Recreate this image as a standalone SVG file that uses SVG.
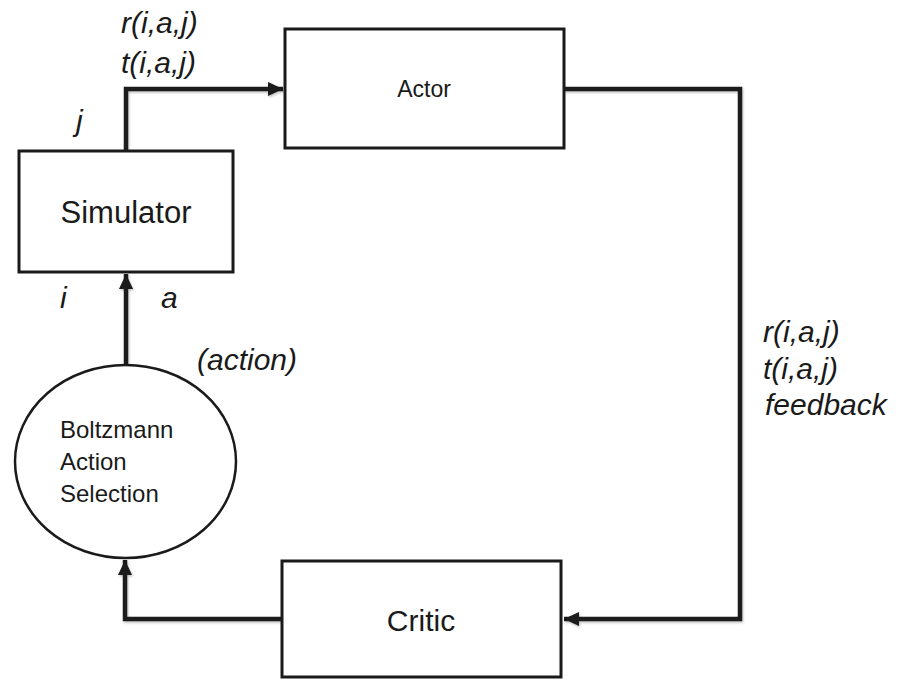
<svg xmlns="http://www.w3.org/2000/svg" width="899" height="679" viewBox="0 0 899 679">
<style>
.box{fill:#fff;stroke:#1a1a1a;stroke-width:3}
.conn{fill:none;stroke:#1a1a1a;stroke-width:4.5;stroke-linejoin:miter}
.lbl{font-family:"Liberation Sans",Arial,sans-serif;fill:#1a1a1a}
.it{font-family:"Liberation Sans",Arial,sans-serif;font-style:italic;font-size:30px;fill:#1a1a1a}
</style>
<defs>
<marker id="arr" markerUnits="userSpaceOnUse" markerWidth="16" markerHeight="14" refX="15" refY="7" orient="auto">
<path d="M0,0 L15,7 L0,14 Z" fill="#1a1a1a"/>
</marker>
<filter id="sh" x="-5%" y="-5%" width="110%" height="110%">
<feDropShadow dx="1" dy="1.5" stdDeviation="1" flood-color="#000" flood-opacity="0.25"/>
</filter>
</defs>
<g id="connectors" filter="url(#sh)">
<path class="conn" d="M126,151 V89 H283" marker-end="url(#arr)"/>
<path class="conn" d="M564,89 H740 V619 H564" marker-end="url(#arr)"/>
<path class="conn" d="M282,619 H125 V560" marker-end="url(#arr)"/>
<path class="conn" d="M126,365 V274" marker-end="url(#arr)"/>
</g>
<g id="simulator">
<rect class="box" x="19" y="151" width="214" height="121"/>
<text class="lbl" x="126" y="223" font-size="31" text-anchor="middle">Simulator</text>
</g>
<g id="actor">
<rect class="box" x="285" y="29" width="279" height="119"/>
<text class="lbl" x="424" y="97" font-size="23" text-anchor="middle">Actor</text>
</g>
<g id="critic">
<rect class="box" x="282" y="561" width="279" height="116"/>
<text class="lbl" x="421" y="631" font-size="30" text-anchor="middle">Critic</text>
</g>
<g id="boltzmann">
<ellipse cx="125.5" cy="461.5" rx="110.5" ry="96.5" fill="#fff" stroke="#1a1a1a" stroke-width="2.5"/>
<text class="lbl" font-size="24"><tspan x="60" y="438">Boltzmann</tspan><tspan x="60" y="470">Action</tspan><tspan x="60" y="502">Selection</tspan></text>
</g>
<g id="labels">
<text class="it" x="121" y="33">r(i,a,j)</text>
<text class="it" x="121" y="73">t(i,a,j)</text>
<text class="it" x="76" y="131">j</text>
<text class="it" x="60" y="308">i</text>
<text class="it" x="161" y="308">a</text>
<text class="it" x="197" y="370">(action)</text>
<text class="it" x="763" y="342">r(i,a,j)</text>
<text class="it" x="763" y="379">t(i,a,j)</text>
<text class="it" x="765" y="415">feedback</text>
</g>
</svg>
